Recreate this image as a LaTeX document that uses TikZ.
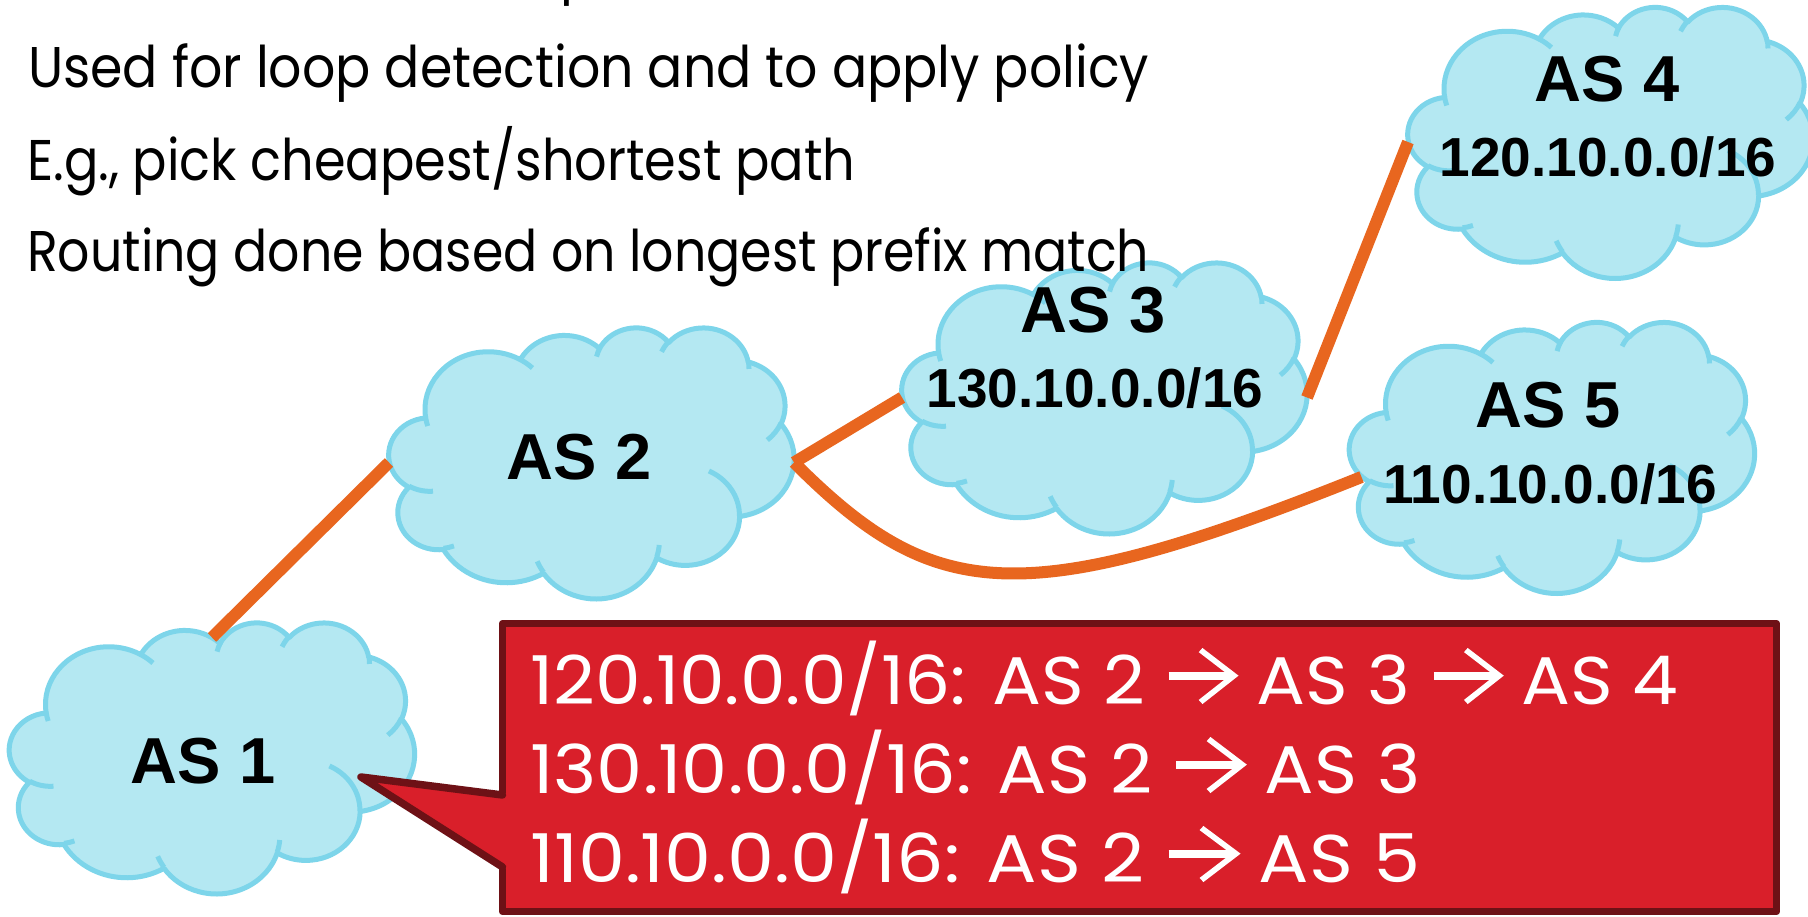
\documentclass[tikz,border=0pt]{standalone}
\usepackage{fontspec}
\usepackage{graphicx}
\setmainfont{Poppins}
\newfontfamily\labelfont{Liberation Sans}
\usetikzlibrary{calc}

\definecolor{cloudfill}{HTML}{B4E8F2}
\definecolor{cloudline}{HTML}{7DD5EA}
\definecolor{linkorange}{HTML}{E8661F}
\definecolor{calloutred}{HTML}{D91F2A}
\definecolor{calloutedge}{HTML}{6E1116}

% Cloud outline: elliptical arcs given by visual start angle and sweep,
% converted here to the parametric angles TikZ expects.
\makeatletter
\newcommand\cloudang[5]{%
  \pgfmathsetmacro\cl@a{atan2((#2)*sin(#4),(#3)*cos(#4))}%
  \pgfmathsetmacro\cl@b{atan2((#2)*sin((#4)+(#5)),(#3)*cos((#4)+(#5)))}%
  \pgfmathsetmacro\cl@d{\cl@b-\cl@a}%
  \pgfmathsetmacro\cl@d{(\cl@d<0) ? \cl@d+360 : \cl@d}%
  \expandafter\xdef\csname clS#1\endcsname{\cl@a}%
  \expandafter\xdef\csname clD#1\endcsname{\cl@d}%
}
\makeatother
\newcommand\carcx[3]{arc[x radius=#2pt,y radius=#3pt,start angle=\csname clS#1\endcsname,delta angle=\csname clD#1\endcsname]}

\cloudang{A}{6.753}{9.190}{-190.48748}{123.78053}
\cloudang{B}{5.333}{7.267}{-144.10238}{89.94523}
\cloudang{C}{4.365}{5.945}{-145.80792}{99.72302}
\cloudang{D}{4.857}{6.595}{-130.98607}{117.24173}
\cloudang{E}{5.333}{7.273}{-78.70888}{109.02692}
\cloudang{F}{6.775}{9.220}{-46.26725}{130.26900}
\cloudang{G}{5.785}{7.867}{0.62502}{114.03333}
\cloudang{H}{6.752}{9.215}{22.45160}{115.17255}
\cloudang{I}{7.720}{10.543}{66.24263}{75.71102}
\cloudang{J}{4.360}{5.918}{-274.94208}{146.73557}
\cloudang{K}{4.345}{5.945}{-246.82850}{152.51885}

\cloudang{a}{4.345}{5.945}{86.74200}{26.42950}
\cloudang{b}{4.360}{5.918}{73.61047}{11.44747}
\cloudang{c}{6.752}{9.215}{137.62415}{14.08110}
\cloudang{d}{6.752}{9.215}{6.45327}{15.99835}
\cloudang{e}{5.785}{7.867}{-70.29235}{70.91737}
\cloudang{f}{5.333}{7.273}{30.31803}{27.75150}
\cloudang{g}{4.857}{6.595}{-13.74433}{14.85890}
\cloudang{h}{4.857}{6.595}{-149.18145}{18.19537}
\cloudang{i}{4.365}{5.945}{-163.49427}{17.68635}
\cloudang{j}{6.753}{9.190}{-66.70695}{12.31935}
\cloudang{k}{6.753}{9.190}{157.65435}{11.85817}

\xdef\cloudoutline{(3.9,14.37)
  \carcx{A}{6.753}{9.190} \carcx{B}{5.333}{7.267} \carcx{C}{4.365}{5.945}
  \carcx{D}{4.857}{6.595} \carcx{E}{5.333}{7.273} \carcx{F}{6.775}{9.220}
  \carcx{G}{5.785}{7.867} \carcx{H}{6.752}{9.215} \carcx{I}{7.720}{10.543}
  \carcx{J}{4.360}{5.918} \carcx{K}{4.345}{5.945} -- cycle}
\xdef\cloudinner{%
  (4.693,26.177) \carcx{a}{4.345}{5.945}
  (6.928,34.899) \carcx{b}{4.360}{5.918}
  (16.478,39.090) \carcx{c}{6.752}{9.215}
  (28.827,34.751) \carcx{d}{6.752}{9.215}
  (34.129,22.954) \carcx{e}{5.785}{7.867}
  (41.798,15.354) \carcx{f}{5.333}{7.273}
  (38.324,5.426) \carcx{g}{4.857}{6.595}
  (29.078,3.952) \carcx{h}{4.857}{6.595}
  (22.141,4.720) \carcx{i}{4.365}{5.945}
  (14.000,5.192) \carcx{j}{6.753}{9.190}
  (4.127,15.789) \carcx{k}{6.753}{9.190}}

% cloud drawn into the box of a named node
\newcommand\drawcloud[1]{%
  \begin{scope}[shift={(#1.north west)}, xscale=405/43.2, yscale=-271/43.2]
    \filldraw[cloudshape] \cloudoutline;
    \draw[cloudshape, fill=none] \cloudinner;
  \end{scope}}

% text squeezed to a given width and cap height
\newcommand\fitline[3]{\resizebox{#1}{#2}{\smash{#3}\vphantom{H}}}
\newcommand\goesto{\tikz[baseline=0pt,x=1em,y=1em]{%
  \draw[white,line width=0.12em] (0,0.42)--(0.84,0.42);
  \draw[white,line width=0.08em,line join=miter] (0.44,0.80)--(0.9,0.42)--(0.44,0.03);}}

\newlength\refw
\newlength\cutnat

\tikzset{
  cloudbox/.style={rectangle, minimum width=405pt, minimum height=271pt,
    inner sep=0pt, outer sep=0pt},
  cloudshape/.style={fill=cloudfill, draw=cloudline, line width=5pt, line join=round},
  link/.style={draw=linkorange, line width=12pt},
  aslabel/.style={font=\labelfont\bfseries\fontsize{65}{70}\selectfont,
    anchor=base, inner sep=0pt},
  prefixlabel/.style={font=\labelfont\bfseries\fontsize{55}{60}\selectfont,
    anchor=base, inner sep=0pt},
  bullettext/.style={font=\fontsize{57}{60}\selectfont, anchor=base west, inner sep=0pt},
  routetext/.style={font=\fontsize{67}{70}\selectfont, text=white,
    anchor=base west, inner sep=0pt},
  calloutbox/.style={rectangle, draw=calloutedge, fill=calloutred, line width=7.5pt,
    line join=round, minimum width=1274pt, minimum height=288pt,
    inner sep=0pt, outer sep=0pt},
  calloutrim/.style={draw=calloutedge, line width=7.5pt, line join=round, line cap=round},
}

\begin{document}
\settowidth\refw{\fontsize{57}{60}\selectfont Used for loop detection and to apply policy}%
\settowidth\cutnat{\fontsize{57}{60}\selectfont Like distance vector, plus additional information}%
\pgfmathsetlengthmacro\cutw{1121pt*(\cutnat/\refw)}%
\begin{tikzpicture}[x=1pt, y=1pt]
  \useasboundingbox (0,0) rectangle (1808,-917);
  \fill[white] (0,0) rectangle (1808,-917);

  % autonomous systems
  \node[cloudbox] (as1) at (212,-757.5) {};
  \node[cloudbox] (as2) at (591.5,-462.5) {};
  \node[cloudbox] (as3) at (1104.5,-397.5) {};
  \node[cloudbox] (as4) at (1610.5,-142) {};
  \node[cloudbox] (as5) at (1552,-457) {};
  \drawcloud{as1}
  \drawcloud{as2}
  \drawcloud{as3}
  \drawcloud{as4}
  \drawcloud{as5}

  % links between the ASes
  \draw[link] ([yshift=-15.5pt]as1.north) -- (as2.west);
  \draw[link] (as2.east) -- (as3.west);
  \draw[link] (as3.east) -- (as4.west);
  \draw[link] (as2.east) .. controls +(139,-139) and +(-342,-137) .. ([shift={(12,-20)}]as5.west);

  % AS names and prefixes
  \node[aslabel] (as1name) at (203,-783) {AS 1};
  \node[aslabel] (as2name) at (579,-479) {AS 2};
  \node[aslabel] (as3name) at (1093,-333) {AS 3};
  \node[prefixlabel] (as3net) at (1095,-407) {130.10.0.0/16};
  \node[aslabel] (as4name) at (1607,-102) {AS 4};
  \node[prefixlabel] (as4net) at (1608,-177) {120.10.0.0/16};
  \node[aslabel] (as5name) at (1548,-427) {AS 5};
  \node[prefixlabel] (as5net) at (1550,-503) {110.10.0.0/16};

  % bullet text
  \node[bullettext] (bullet0) at (22,8) {\resizebox{\cutw}{40pt}{\smash{Like distance vector, plus additional information}\vphantom{H}}};
  \node[bullettext] (bullet1) at (28,-88) {\fitline{1121pt}{40pt}{Used for loop detection and to apply policy}};
  \node[bullettext] (bullet2) at (27,-181) {\fitline{828pt}{40pt}{E.g., pick cheapest/shortest path}};
  \node[bullettext] (bullet3) at (27,-272) {\fitline{1122pt}{40pt}{Routing done based on longest prefix match}};

  % routing table callout
  \node[calloutbox] (routes) at (1139.5,-767.5) {};
  \coordinate (callouttip) at (361,-777);
  \fill[calloutred] ([shift={(6pt,-24pt)}]routes.west) -- ([yshift=-27.5pt]routes.west)
    -- (callouttip) -- ([yshift=-99.5pt]routes.west) -- ([shift={(6pt,-103pt)}]routes.west) -- cycle;
  \draw[calloutrim]
    ([yshift=-27.5pt]routes.west) -- (callouttip) -- ([yshift=-99.5pt]routes.west);

  \node[routetext] (route1) at (530,-704) {\fitline{1148pt}{47pt}{120.10.0.0/16: AS 2 \goesto{} AS 3 \goesto{} AS 4}};
  \node[routetext] (route2) at (530,-793) {\fitline{890pt}{47pt}{130.10.0.0/16: AS 2 \goesto{} AS 3}};
  \node[routetext] (route3) at (530,-882) {\fitline{890pt}{47pt}{110.10.0.0/16: AS 2 \goesto{} AS 5}};
\end{tikzpicture}
\end{document}
